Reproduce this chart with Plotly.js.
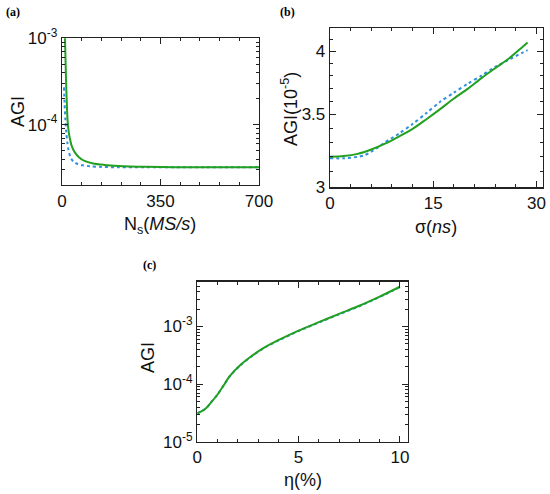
<!DOCTYPE html>
<html>
<head>
<meta charset="utf-8">
<script src="https://cdn.plot.ly/plotly-3.0.1.min.js"></script>
<style>
html,body{margin:0;padding:0;background:#fff;}
#chart{width:550px;height:494px;}
</style>
</head>
<body>
<div id="chart"></div>
<script>
// ---- Panel (a): AGI vs sampling rate N_s (MS/s)
var aGreenN   = [8, 11, 14, 17, 20, 24, 28, 35, 45, 60, 80, 110, 150, 200, 300, 400, 500, 600, 700];
var aGreenAGI = [2.0e-3, 9.0e-4, 3.6e-4, 1.8e-4, 1.1e-4, 8.2e-5, 6.9e-5, 5.6e-5, 4.8e-5, 4.2e-5, 3.8e-5, 3.55e-5, 3.42e-5, 3.33e-5, 3.25e-5, 3.22e-5, 3.21e-5, 3.2e-5, 3.2e-5];
var aBlueN    = [7, 9, 12, 15, 19, 23, 30, 40, 55, 75, 100, 140, 200, 300, 400, 500, 600, 700];
var aBlueAGI  = [2.7e-4, 1.8e-4, 1.15e-4, 8.2e-5, 6.2e-5, 5.1e-5, 4.2e-5, 3.75e-5, 3.5e-5, 3.38e-5, 3.3e-5, 3.24e-5, 3.21e-5, 3.2e-5, 3.2e-5, 3.2e-5, 3.2e-5, 3.2e-5];

// ---- Panel (b): AGI (1e-5) vs timing jitter sigma (ns)
var bGreenSigma = [0, 2, 4, 6, 8, 10, 12, 14, 16, 18, 20, 22, 24, 26, 28, 28.7];
var bGreenAGI   = [3.20, 3.205, 3.22, 3.25, 3.29, 3.34, 3.395, 3.465, 3.54, 3.62, 3.695, 3.78, 3.86, 3.94, 4.04, 4.075];
var bBlueSigma  = [0, 2, 4, 5, 6, 7, 8, 10, 12, 14, 16, 18, 20, 22, 24, 26, 28, 28.7];
var bBlueAGI    = [3.19, 3.19, 3.20, 3.21, 3.235, 3.265, 3.30, 3.36, 3.43, 3.51, 3.595, 3.665, 3.735, 3.80, 3.87, 3.93, 3.99, 4.01];

// ---- Panel (c): AGI vs eta (%)
var cEta      = [0, 0.2, 0.43, 0.7, 1.0, 1.3, 1.6, 2.1, 2.7, 3.3, 4.0, 5.0, 6.0, 7.0, 8.0, 9.0, 10.0];
var cGreenAGI = [3.1e-5, 3.35e-5, 3.8e-5, 4.9e-5, 6.6e-5, 9.5e-5, 1.37e-4, 2.1e-4, 3.1e-4, 4.3e-4, 5.8e-4, 8.5e-4, 1.19e-3, 1.66e-3, 2.29e-3, 3.3e-3, 4.9e-3];
var cBlueAGI  = [3.1e-5, 3.35e-5, 3.8e-5, 4.9e-5, 6.6e-5, 9.5e-5, 1.36e-4, 2.08e-4, 3.06e-4, 4.24e-4, 5.7e-4, 8.35e-4, 1.17e-3, 1.63e-3, 2.25e-3, 3.25e-3, 4.82e-3];

// ---- Tick labels
var aXTicks = [0, 350, 700];
var bXTicks = [0, 15, 30];
var bYTicks = [3, 3.5, 4];
var bYTickText = ['3', '3.5', '4'];
var cXTicks = [0, 5, 10];
var aYTicks = [1e-4, 1e-3];
var aYTickText = ['10<sup>-4</sup>', '10<sup>-3</sup>'];
var cYTicks = [1e-5, 1e-4, 1e-3];
var cYTickText = ['10<sup>-5</sup>', '10<sup>-4</sup>', '10<sup>-3</sup>'];

// ---- styling helpers
var W = 550, H = 494;
function px(x){ return x / W; }
function py(y){ return 1 - y / H; }
var GREEN = '#22a022', BLUE = '#2f8fe0';
var tickFont = {family: 'Liberation Sans, Arial, sans-serif', size: 17, color: '#111'};
var titleFont = {family: 'Liberation Sans, Arial, sans-serif', size: 18, color: '#111'};
var labelFont = {family: 'Liberation Serif, DejaVu Serif, serif', size: 12, color: '#000'};

function logMinors(lo, hi){
  var out = [];
  for (var e = lo; e < hi; e++){
    for (var k = 2; k <= 9; k++) out.push(k * Math.pow(10, e));
  }
  return out;
}

function baseAxis(extra){
  var ax = {
    showline: true, linecolor: '#222', linewidth: 1.3, mirror: 'allticks',
    ticks: 'inside', ticklen: 6, tickwidth: 1, tickcolor: '#222',
    showgrid: false, zeroline: false, tickfont: tickFont, fixedrange: true
  };
  for (var k in extra) ax[k] = extra[k];
  return ax;
}

function ln(color, dash){ return {color: color, width: 2, dash: dash, shape: 'spline', smoothing: 0.8}; }

var traces = [
  {x: aBlueN, y: aBlueAGI, xaxis: 'x', yaxis: 'y', mode: 'lines', line: ln(BLUE, 'dot')},
  {x: aGreenN, y: aGreenAGI, xaxis: 'x', yaxis: 'y', mode: 'lines', line: ln(GREEN, 'solid')},
  {x: bBlueSigma, y: bBlueAGI, xaxis: 'x2', yaxis: 'y2', mode: 'lines', line: ln(BLUE, 'dot')},
  {x: bGreenSigma, y: bGreenAGI, xaxis: 'x2', yaxis: 'y2', mode: 'lines', line: ln(GREEN, 'solid')},
  {x: cEta, y: cBlueAGI, xaxis: 'x3', yaxis: 'y3', mode: 'lines', line: ln(BLUE, 'dot')},
  {x: cEta, y: cGreenAGI, xaxis: 'x3', yaxis: 'y3', mode: 'lines', line: ln(GREEN, 'solid')}
];

var minorStyle = {ticks: 'inside', ticklen: 3, tickcolor: '#222'};
function minorLin(d){ return Object.assign({tickmode: 'linear', tick0: 0, dtick: d}, minorStyle); }
function minorArr(v){ return Object.assign({tickmode: 'array', tickvals: v}, minorStyle); }

var layout = {
  width: W, height: H,
  margin: {l: 0, r: 0, t: 0, b: 0},
  paper_bgcolor: '#fff', plot_bgcolor: '#fff',
  showlegend: false,
  xaxis: baseAxis({domain: [px(62), px(259)], anchor: 'y', range: [0, 700],
    tickmode: 'array', tickvals: aXTicks, minor: minorLin(70)}),
  yaxis: baseAxis({domain: [py(185), py(38.3)], anchor: 'x', type: 'log', range: [Math.log10(2e-5), -3],
    tickmode: 'array', tickvals: aYTicks, ticktext: aYTickText, minor: minorArr(logMinors(-5, -3))}),
  xaxis2: baseAxis({domain: [px(330), px(542.7)], anchor: 'y2', range: [0, 30.9],
    tickmode: 'array', tickvals: bXTicks, minor: minorLin(3)}),
  yaxis2: baseAxis({domain: [py(187.3), py(28.3)], anchor: 'x2', type: 'log', range: [Math.log10(3), Math.log10(4.2)],
    tickmode: 'array', tickvals: bYTicks, ticktext: bYTickText,
    minor: minorArr([3.1, 3.2, 3.3, 3.4, 3.6, 3.7, 3.8, 3.9, 4.1])}),
  xaxis3: baseAxis({domain: [px(197.3), px(408)], anchor: 'y3', range: [0, 10.4],
    tickmode: 'array', tickvals: cXTicks, minor: minorLin(1)}),
  yaxis3: baseAxis({domain: [py(441.7), py(281.7)], anchor: 'x3', type: 'log', range: [-5, Math.log10(6e-3)],
    tickmode: 'array', tickvals: cYTicks, ticktext: cYTickText, minor: minorArr(logMinors(-5, -2))}),
  annotations: [
    {text: '<b>(a)</b>', x: px(4), y: py(12), xanchor: 'left', yanchor: 'middle', font: labelFont},
    {text: '<b>(b)</b>', x: px(278), y: py(12), xanchor: 'left', yanchor: 'middle', font: labelFont},
    {text: '<b>(c)</b>', x: px(141), y: py(265), xanchor: 'left', yanchor: 'middle', font: labelFont},
    {text: 'N<sub>s</sub>(<i>MS/s</i>)', x: px(160), y: py(225), xanchor: 'center', yanchor: 'middle', font: titleFont},
    {text: 'AGI', x: px(18), y: py(112), xanchor: 'center', yanchor: 'middle', textangle: -90, font: titleFont},
    {text: 'σ(<i>ns</i>)', x: px(436), y: py(227), xanchor: 'center', yanchor: 'middle', font: titleFont},
    {text: 'AGI(10<sup>-5</sup>)', x: px(289), y: py(109), xanchor: 'center', yanchor: 'middle', textangle: -90, font: titleFont},
    {text: 'η(%)', x: px(303), y: py(480), xanchor: 'center', yanchor: 'middle', font: titleFont},
    {text: 'AGI', x: px(148), y: py(358), xanchor: 'center', yanchor: 'middle', textangle: -90, font: titleFont}
  ].map(function(a){ a.xref = 'paper'; a.yref = 'paper'; a.showarrow = false; return a; })
};

Plotly.newPlot('chart', traces, layout, {displayModeBar: false, staticPlot: true});
</script>
</body>
</html>
